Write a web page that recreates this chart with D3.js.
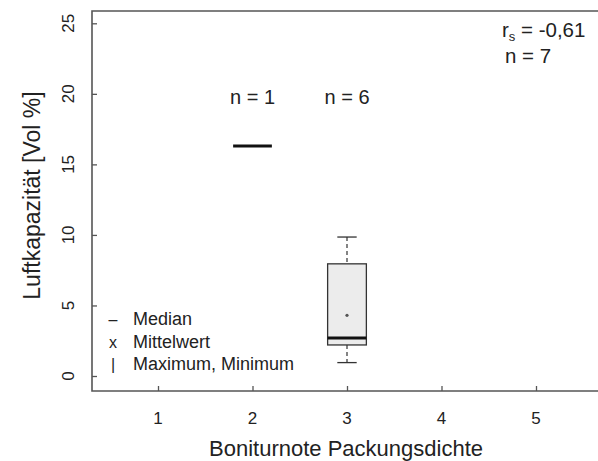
<!DOCTYPE html>
<html><head><meta charset="utf-8">
<script src="https://cdn.jsdelivr.net/npm/d3@7"></script>
<style>body{margin:0;background:#fff}text{font-family:"Liberation Sans",Arial,sans-serif;fill:#222}</style>
</head><body><svg id="c" width="598" height="461"></svg>
<script>
const categories = [1, 2, 3, 4, 5];
const yTicks = [0, 5, 10, 15, 20, 25];
const groupLabels = [{cat: 2, label: "n = 1"}, {cat: 3, label: "n = 6"}];
const singleValues = [{cat: 2, value: 16.3}];
const boxStats = [{cat: 3, min: 0.95, q1: 2.2, median: 2.7, q3: 7.95, max: 9.85, mean: 4.3}];
const legendItems = [{sym: "–", label: "Median"}, {sym: "x", label: "Mittelwert"}, {sym: "|", label: "Maximum, Minimum"}];
const statLines = ["= -0,61", "n = 7"];

(function () {
const svg = d3.select("#c");
const x = d3.scaleLinear().domain([1, 5]).range([158, 536]);
const y = d3.scaleLinear().domain([0, 25]).range([376, 23.3]);
const pLeft = 92, pTop = 11, pBottom = 391, pRight = 600;
const halfW = (x(2) - x(1)) * 0.205;

// frame
svg.append("path").attr("d", `M${pRight},${pTop}H${pLeft}V${pBottom}H${pRight}`)
  .attr("fill", "none").attr("stroke", "#555").attr("stroke-width", 1.6);

// y axis ticks (inward) and labels
const yAxis = d3.axisRight(y).tickValues(yTicks).tickSize(5).tickFormat("");
const ya = svg.append("g").attr("transform", `translate(${pLeft},0)`).call(yAxis);
ya.select(".domain").remove();
ya.selectAll("line").attr("stroke", "#555").attr("stroke-width", 1.3);
svg.selectAll(".ylab").data(yTicks).enter().append("text")
  .attr("transform", d => `translate(74,${y(d)}) rotate(-90)`)
  .attr("text-anchor", "middle").attr("font-size", 17).text(d => d);

// x axis ticks (inward) and labels
const xAxis = d3.axisTop(x).tickValues(categories).tickSize(5).tickFormat("");
const xa = svg.append("g").attr("transform", `translate(0,${pBottom})`).call(xAxis);
xa.select(".domain").remove();
xa.selectAll("line").attr("stroke", "#555").attr("stroke-width", 1.3);
svg.selectAll(".xlab").data(categories).enter().append("text")
  .attr("x", d => x(d)).attr("y", 424).attr("text-anchor", "middle")
  .attr("font-size", 17).text(d => d);

// axis titles
svg.append("text").attr("x", 346).attr("y", 456).attr("text-anchor", "middle")
  .attr("font-size", 22).text("Boniturnote Packungsdichte");
svg.append("text").attr("transform", `translate(40,${(88 + 303) / 2}) rotate(-90)`)
  .attr("text-anchor", "middle").attr("font-size", 23).text("Luftkapazität [Vol %]");

// single value groups (median line only)
svg.selectAll(".single").data(singleValues).enter().append("line")
  .attr("x1", d => x(d.cat) - halfW).attr("x2", d => x(d.cat) + halfW)
  .attr("y1", d => y(d.value)).attr("y2", d => y(d.value))
  .attr("stroke", "#111").attr("stroke-width", 3);

// box plots
const bg = svg.selectAll(".box").data(boxStats).enter().append("g");
bg.append("line").attr("x1", d => x(d.cat)).attr("x2", d => x(d.cat))
  .attr("y1", d => y(d.max)).attr("y2", d => y(d.q3))
  .attr("stroke", "#333").attr("stroke-width", 1.2).attr("stroke-dasharray", "4,3");
bg.append("line").attr("x1", d => x(d.cat)).attr("x2", d => x(d.cat))
  .attr("y1", d => y(d.q1)).attr("y2", d => y(d.min))
  .attr("stroke", "#333").attr("stroke-width", 1.2).attr("stroke-dasharray", "4,3");
bg.append("line").attr("x1", d => x(d.cat) - halfW / 2).attr("x2", d => x(d.cat) + halfW / 2)
  .attr("y1", d => y(d.max)).attr("y2", d => y(d.max)).attr("stroke", "#333").attr("stroke-width", 1.3);
bg.append("line").attr("x1", d => x(d.cat) - halfW / 2).attr("x2", d => x(d.cat) + halfW / 2)
  .attr("y1", d => y(d.min)).attr("y2", d => y(d.min)).attr("stroke", "#333").attr("stroke-width", 1.3);
bg.append("rect").attr("x", d => x(d.cat) - halfW).attr("width", halfW * 2)
  .attr("y", d => y(d.q3)).attr("height", d => y(d.q1) - y(d.q3))
  .attr("fill", "#ececec").attr("stroke", "#333").attr("stroke-width", 1.3);
bg.append("line").attr("x1", d => x(d.cat) - halfW).attr("x2", d => x(d.cat) + halfW)
  .attr("y1", d => y(d.median)).attr("y2", d => y(d.median))
  .attr("stroke", "#111").attr("stroke-width", 3);
bg.append("circle").attr("cx", d => x(d.cat)).attr("cy", d => y(d.mean)).attr("r", 1.6).attr("fill", "#555");

// n labels
svg.selectAll(".nlab").data(groupLabels).enter().append("text")
  .attr("x", d => x(d.cat)).attr("y", 104).attr("text-anchor", "middle")
  .attr("font-size", 20).text(d => d.label);

// legend
const lg = svg.selectAll(".leg").data(legendItems).enter().append("g")
  .attr("transform", (d, i) => `translate(0,${325 + i * 22.5})`);
lg.append("text").attr("x", 113).attr("text-anchor", "middle").attr("font-size", 16).text(d => d.sym);
lg.append("text").attr("x", 133).attr("font-size", 18).text(d => d.label);

// correlation text
const rs = svg.append("text").attr("x", 502).attr("y", 37).attr("font-size", 20.5);
rs.append("tspan").text("r");
rs.append("tspan").attr("font-size", 13).attr("dy", 4).text("s");
rs.append("tspan").attr("dy", -4).text(" " + statLines[0]);
svg.append("text").attr("x", 505).attr("y", 63).attr("font-size", 20.5).text(statLines[1]);
})();
</script></body></html>
